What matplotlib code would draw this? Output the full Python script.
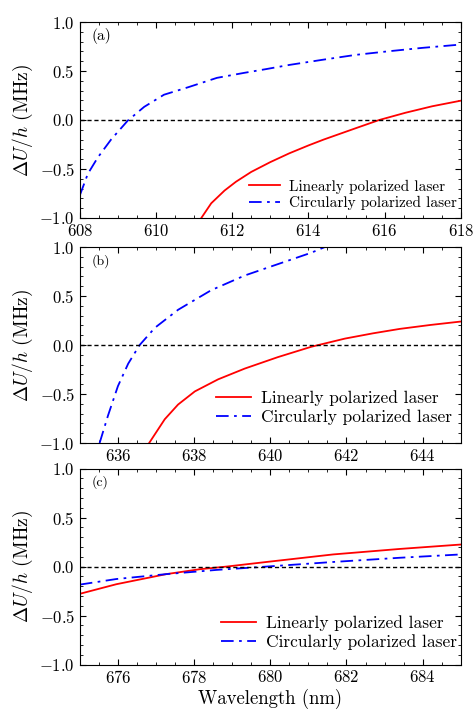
import matplotlib
matplotlib.use('Agg')
import matplotlib.pyplot as plt
from matplotlib.ticker import MultipleLocator, FuncFormatter

plt.rcParams['font.family'] = ['cmr10', 'DejaVu Serif']
plt.rcParams['mathtext.fontset'] = 'cm'

# panel (a), 608-618 nm
a_lin_x = [611.19, 611.45, 611.8, 612.1, 612.5, 613.0, 613.5, 614.0, 614.4, 615.25, 615.86, 616.55, 617.25, 618.0]
a_lin_y = [-1.0, -0.85, -0.72, -0.63, -0.53, -0.43, -0.34, -0.26, -0.20, -0.083, 0.0, 0.074, 0.14, 0.197]
a_cir_x = [608.0, 608.21, 608.47, 608.82, 609.26, 609.69, 610.21, 610.85, 611.6, 612.3, 612.9, 613.5, 614.38, 615.25, 616.12, 616.99, 618.0]
a_cir_y = [-0.77, -0.55, -0.384, -0.20, -0.006, 0.134, 0.258, 0.335, 0.43, 0.48, 0.52, 0.562, 0.615, 0.665, 0.702, 0.736, 0.77]

# panel (b), 635-645 nm
b_lin_x = [636.82, 637.23, 637.58, 638.02, 638.63, 639.33, 640.2, 641.08, 641.96, 642.7, 643.4, 644.2, 645.0]
b_lin_y = [-1.0, -0.757, -0.607, -0.473, -0.35, -0.24, -0.123, -0.017, 0.066, 0.12, 0.165, 0.205, 0.24]
b_cir_x = [635.52, 635.74, 636.0, 636.27, 636.57, 636.97, 637.58, 638.45, 639.33, 640.2, 641.08, 641.43]
b_cir_y = [-1.0, -0.72, -0.42, -0.19, 0.0, 0.176, 0.36, 0.56, 0.71, 0.826, 0.943, 1.0]

# panel (c), 675-685 nm
c_lin_x = [675.0, 675.96, 677.27, 678.15, 678.85, 679.9, 681.65, 683.4, 685.0]
c_lin_y = [-0.278, -0.18, -0.077, -0.027, 0.0, 0.047, 0.124, 0.18, 0.225]
c_cir_x = [675.0, 675.96, 677.27, 678.59, 679.9, 681.65, 683.4, 685.0]
c_cir_y = [-0.184, -0.127, -0.077, -0.034, 0.0, 0.047, 0.09, 0.124]

panels = [
    ('(a)', (608, 618), a_lin_x, a_lin_y, a_cir_x, a_cir_y, 0.693, 11, 11, 0.2, 0.01),
    ('(b)', (635, 645), b_lin_x, b_lin_y, b_cir_x, b_cir_y, 0.376, 12.5, 10, 0.75, 0.026),
    ('(c)', (675, 685), c_lin_x, c_lin_y, c_cir_x, c_cir_y, 0.064, 12.5, 10, 0.55, 0.03),
]

fmt = FuncFormatter(lambda v, p: r'$%.1f$' % v)
xfmt = FuncFormatter(lambda v, p: r'$%d$' % round(v))

fig = plt.figure(figsize=(4.75, 7.1), dpi=100)

for lab, xr, lx, ly, cx, cy, bot, legfs, labfs, pad, dx in panels:
    ax = fig.add_axes([0.168, bot, 0.802, 0.276])
    ax.plot(lx, ly, color='red', lw=1.3, label='Linearly polarized laser')
    ax.plot(cx, cy, color='blue', lw=1.3, ls=(0, (7, 3, 1.5, 3)), label='Circularly polarized laser')
    ax.axhline(0, color='black', ls='--', lw=1.0, dashes=(3, 2))
    ax.set_xlim(*xr)
    ax.set_ylim(-1.0, 1.0)
    ax.xaxis.set_major_locator(MultipleLocator(2))
    ax.xaxis.set_minor_locator(MultipleLocator(0.5))
    ax.yaxis.set_major_locator(MultipleLocator(0.5))
    ax.yaxis.set_minor_locator(MultipleLocator(0.1))
    ax.yaxis.set_major_formatter(fmt)
    ax.xaxis.set_major_formatter(xfmt)
    ax.tick_params(which='both', direction='in', top=True, right=True, labelsize=12)
    ax.tick_params(which='major', length=4, width=0.8)
    ax.tick_params(which='minor', length=2.5, width=0.6)
    ax.tick_params(axis='x', pad=3.5)
    ax.set_ylabel(r'$\Delta U/h$ (MHz)', fontsize=14, labelpad=3)
    ax.text(0.03, 0.93, lab, transform=ax.transAxes, fontsize=labfs, va='center')
    ax.legend(loc='lower right', bbox_to_anchor=(1.0 + dx, 0.0), frameon=False,
              fontsize=legfs, handlelength=2.0, handletextpad=0.6,
              borderaxespad=pad, borderpad=0.3, labelspacing=0.15)

fig.text(0.568, 0.001, 'Wavelength (nm)', fontsize=13.5, ha='center', va='bottom')

fig.savefig('out.png', dpi=100)
